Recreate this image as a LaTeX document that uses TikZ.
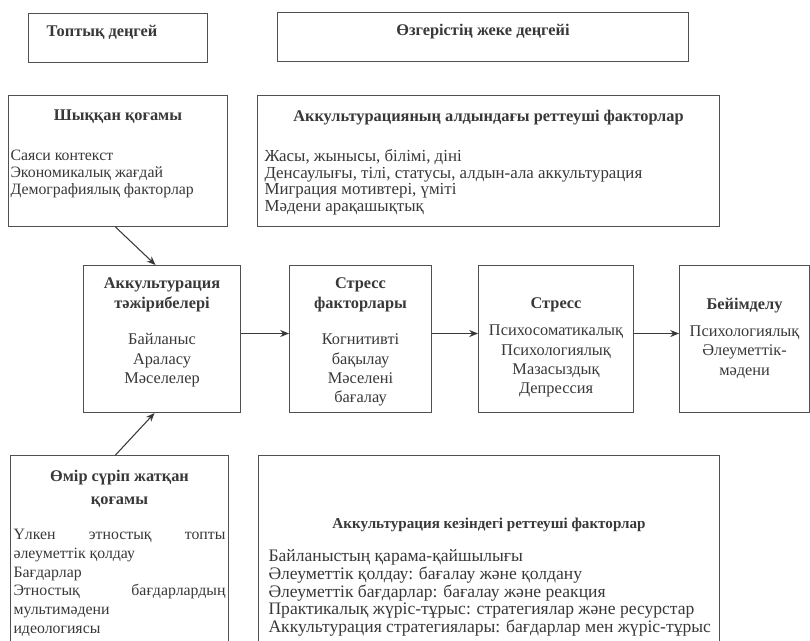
\documentclass[tikz,border=0pt]{standalone}
\usepackage{fontspec}
\setmainfont{Liberation Serif}
\usetikzlibrary{positioning,arrows.meta}
\definecolor{inkgray}{HTML}{383838}
\definecolor{framegray}{HTML}{505050}
\newcommand{\boxbody}[3]{\begin{minipage}[t][#2][t]{#1}#3\end{minipage}}
\tikzset{level style/.style={
		draw=framegray,
		line width=0.6pt,
		rectangle,
		text=inkgray,
		inner sep=0pt,
		anchor=north west,
		font=\fontsize{9.3}{11}\selectfont,
	},
	factor style/.style={
		draw=framegray,
		line width=0.6pt,
		rectangle,
		text=inkgray,
		inner sep=0pt,
		anchor=north west,
		font=\fontsize{9.3}{9.5}\selectfont,
	},
	stage style/.style={
		draw=framegray,
		line width=0.6pt,
		rectangle,
		text=inkgray,
		inner sep=0pt,
		anchor=north west,
		font=\fontsize{9.3}{11}\selectfont,
	},
	arrow style/.style={
		-{Stealth[length=5pt,width=4pt]},
		draw=inkgray,
		line width=0.6pt,
	}
}

\begin{document}
\begin{tikzpicture}[x=0.02cm,y=-0.02cm]
	\useasboundingbox (0,0) rectangle (810,641);
	\clip (0,0) rectangle (810,641);
	
	% levels
	\node[level style] (GroupLevel) at (28,13) {\boxbody{3.58cm}{0.98cm}{%
		\vspace*{0.23cm}\hspace*{0.36cm}\textbf{Топтық деңгей}}};
	
	\node[level style] (PersonLevel) at (277,12) {\boxbody{8.22cm}{0.98cm}{%
		\vspace*{0.24cm}{\centering\bfseries Өзгерістің жеке деңгейі\par}}};
	
	% factors before acculturation
	\node[factor style] (Origin) at (8,95) {\boxbody{4.38cm}{2.62cm}{%
		\vspace*{0.29cm}{\centering\bfseries Шыққан қоғамы\par}
		\vspace{0.47cm}
		{\raggedright\leftskip=0.04cm\fontsize{9}{9.5}\selectfont
		Саяси контекст\\
		Экономикалық жағдай\\
		Демографиялық факторлар\par}}};
	
	\node[factor style] (PreFactors) at (257,95) {\boxbody{9.24cm}{2.62cm}{%
		\vspace*{0.29cm}{\centering\bfseries Аккультурацияның алдындағы реттеуші факторлар\par}
		\vspace{0.47cm}
		{\raggedright\leftskip=0.14cm\fontsize{9.6}{9.5}\selectfont
		Жасы, жынысы, білімі, діні\\
		Денсаулығы, тілі, статусы, алдын-ала аккультурация\\
		Миграция мотивтері, үміті\\
		Мәдени арақашықтық\par}}};
	
	% stages
	\node[stage style] (Experience) at (83,265) {\boxbody{3.14cm}{2.94cm}{%
		\vspace*{0.25cm}{\centering\bfseries Аккультурация\\ тәжірибелері\par}
		\vspace{0.35cm}
		{\centering Байланыс\\ Араласу\\ Мәселелер\par}}};
	
	\node[stage style, right=0.96cm of Experience] (Stressors) {\boxbody{2.84cm}{2.94cm}{%
		\vspace*{0.25cm}{\centering\bfseries Стресс\\ факторлары\par}
		\vspace{0.35cm}
		{\centering Когнитивті\\ бақылау\\ Мәселені\\ бағалау\par}}};
	
	\node[stage style, right=0.92cm of Stressors] (Stress) {\boxbody{3.1cm}{2.94cm}{%
		\vspace*{0.65cm}{\centering\bfseries Стресс\par}
		\vspace{0.155cm}
		{\centering Психосоматикалық\\ Психологиялық\\ Мазасыздық\\ Депрессия\par}}};
	
	\node[stage style, right=0.9cm of Stress] (Adaptation) {\boxbody{2.6cm}{2.94cm}{%
		\vspace*{0.65cm}{\centering\bfseries Бейімделу\par}
		\vspace{0.155cm}
		{\centering Психологиялық\\ Әлеуметтік-\\ мәдени\par}}};
	
	% factors during acculturation
	\node[factor style] (Host) at (10,455) {\boxbody{4.36cm}{4.5cm}{%
		\vspace*{0.29cm}{\centering\bfseries\fontsize{9.3}{13}\selectfont Өмір сүріп жатқан\\ қоғамы\par}
		\vspace{0.33cm}
		{\fontsize{9}{10.7}\selectfont\leftskip=0.06cm\rightskip=0.06cm
		Үлкен\hfill этностық\hfill топты\\
		әлеуметтік қолдау\\
		Бағдарлар\\
		Этностық\hfill бағдарлардың\\
		мультимәдени\\
		идеологиясы\par}}};
	
	\node[factor style] (DuringFactors) at (258,455) {\boxbody{9.22cm}{4.5cm}{%
		\vspace*{1.25cm}{\centering\bfseries\fontsize{8.6}{9.5}\selectfont Аккультурация кезіндегі реттеуші факторлар\par}
		\vspace{0.31cm}
		{\raggedright\leftskip=0.2cm\fontsize{10}{10.1}\selectfont
		Байланыстың қарама-қайшылығы\\
		Әлеуметтік қолдау: бағалау және қолдану\\
		Әлеуметтік бағдарлар: бағалау және реакция\\
		Практикалық жүріс-тұрыс: стратегиялар және ресурстар\\
		Аккультурация стратегиялары: бағдарлар мен жүріс-тұрыс\par}}};
	
	% arrows
	\draw[arrow style] ([xshift=-0.05cm]Origin.south) -- ([xshift=-0.13cm]Experience.north);
	\draw[arrow style] ([xshift=-0.08cm]Host.north) -- ([xshift=-0.15cm]Experience.south);
	\draw[arrow style] ([yshift=0.11cm]Experience.east) -- ([yshift=0.11cm]Stressors.west);
	\draw[arrow style] ([yshift=0.11cm]Stressors.east) -- ([yshift=0.11cm]Stress.west);
	\draw[arrow style] ([yshift=0.11cm]Stress.east) -- ([yshift=0.11cm]Adaptation.west);
\end{tikzpicture}
\end{document}
